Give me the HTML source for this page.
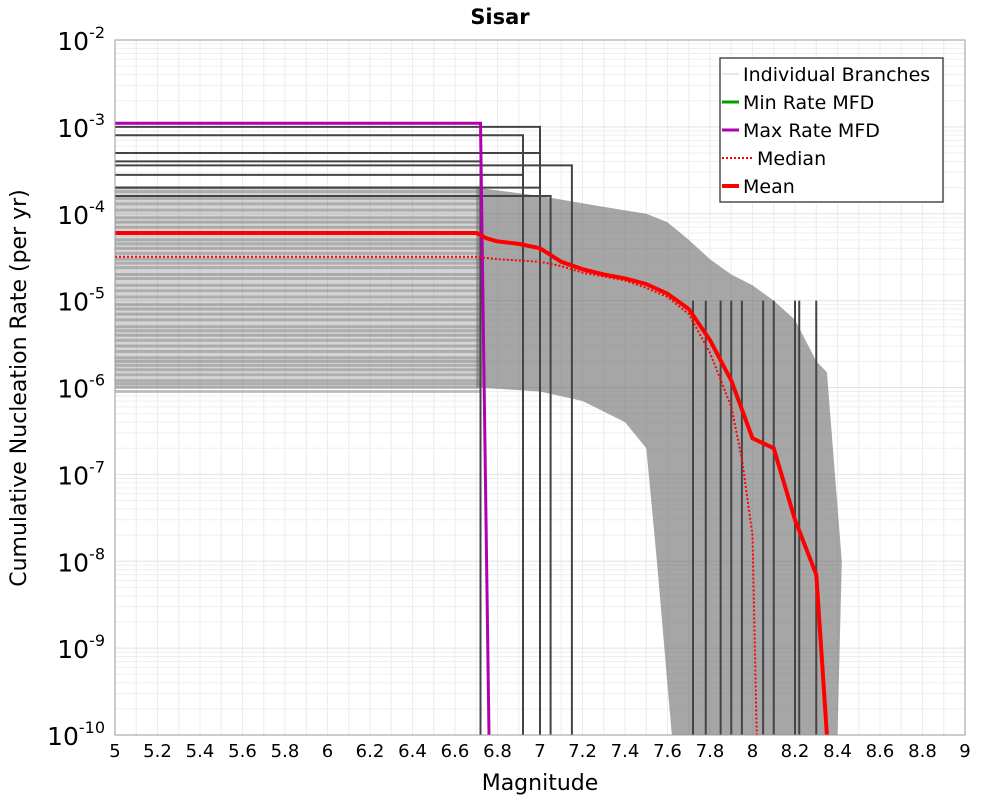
<!DOCTYPE html>
<html><head><meta charset="utf-8">
<style>
body{margin:0;background:#fff;}
svg{display:block;font-family:"DejaVu Sans","Liberation Sans",sans-serif;}
</style></head>
<body>
<svg id="chart" width="1000" height="800"></svg>
<script>
const NS="http://www.w3.org/2000/svg";
const xTicks=[5,5.2,5.4,5.6,5.8,6,6.2,6.4,6.6,6.8,7,7.2,7.4,7.6,7.8,8,8.2,8.4,8.6,8.8,9];
const xTickLabels=["5","5.2","5.4","5.6","5.8","6","6.2","6.4","6.6","6.8","7","7.2","7.4","7.6","7.8","8","8.2","8.4","8.6","8.8","9"];
const yExps=[-2,-3,-4,-5,-6,-7,-8,-9,-10];
const meanMag=[5,6.7,6.75,6.8,6.9,7.0,7.1,7.2,7.3,7.4,7.5,7.6,7.7,7.8,7.9,8.0,8.1,8.2,8.3,8.35];
const meanRate=[6e-5,6e-5,5.2e-5,4.8e-5,4.5e-5,4e-5,2.8e-5,2.3e-5,2e-5,1.8e-5,1.55e-5,1.2e-5,8e-6,3.5e-6,1.2e-6,2.6e-7,2e-7,3e-8,7e-9,1e-10];
const medianMag=[5,6.7,6.8,6.9,7.0,7.1,7.2,7.3,7.4,7.5,7.6,7.7,7.8,7.9,7.95,8.0,8.02];
const medianRate=[3.2e-5,3.2e-5,3e-5,2.9e-5,2.8e-5,2.5e-5,2.1e-5,1.9e-5,1.7e-5,1.4e-5,1.1e-5,7e-6,2.5e-6,6e-7,1.5e-7,2e-8,1e-10];
const maxMag=[5,6.72,6.76];
const maxRate=[1.1e-3,1.1e-3,1e-10];
const bandUpMag=[6.7,7.0,7.3,7.5,7.6,7.7,7.8,7.9,8.0,8.1,8.2,8.3,8.35,8.42];
const bandUpRate=[2e-4,1.6e-4,1.2e-4,1e-4,8e-5,5e-5,3e-5,2e-5,1.5e-5,1e-5,6e-6,2e-6,1.5e-6,1e-8];
const bandLoMag=[6.7,7.0,7.2,7.4,7.5,7.55,7.62,8.4];
const bandLoRate=[1e-6,9e-7,7e-7,4e-7,2e-7,1e-8,1e-10,1e-10];
const branchRates=[2e-4,1.8e-4,1.5e-4,1.3e-4,1.1e-4,9e-5,8e-5,7e-5,6e-5,5e-5,4.5e-5,4e-5,3.5e-5,3e-5,2.7e-5,2.4e-5,2e-5,1.8e-5,1.5e-5,1.3e-5,1.1e-5,9e-6,8e-6,7e-6,6e-6,5e-6,4.5e-6,4e-6,3.5e-6,3e-6,2.6e-6,2.2e-6,2e-6,1.8e-6,1.6e-6,1.4e-6,1.2e-6,1.1e-6,1e-6,9e-7];
const stepRates=[1e-3,8e-4,5e-4,4e-4,3.6e-4,2.8e-4,2e-4,1.6e-4];
const stepMmax=[7.0,6.92,7.0,6.72,7.15,6.92,7.0,7.05];
const X0=115,X1=965,Y0=40,Y1=735;
const xs=m=>X0+(m-5)/4*(X1-X0);
const ys=r=>Y0+(-2-Math.log10(r))/8*(Y1-Y0);
const svg=document.getElementById('chart');
function el(t,a,p){const e=document.createElementNS(NS,t);for(const k in a)e.setAttribute(k,a[k]);(p||svg).appendChild(e);return e;}
function pts(M,R){return M.map((m,i)=>xs(m).toFixed(1)+","+ys(R[i]).toFixed(1)).join(" ");}
el('rect',{x:X0,y:Y0,width:X1-X0,height:Y1-Y0,fill:'#fff'});
const grid=el('g',{});


for(let i=0;i<=40;i++){const x=xs(5+i*0.1);el('line',{x1:x,x2:x,y1:Y0,y2:Y1,stroke:'#ececec','stroke-width':1},grid);}
for(let d=-10;d<-2;d++){for(let k=1;k<10;k++){const y=ys(k*Math.pow(10,d));el('line',{x1:X0,x2:X1,y1:y,y2:y,stroke:k==1?'#e2e2e2':'#efefef','stroke-width':1},grid);}}
const band=el('polygon',{points:pts(bandUpMag,bandUpRate)+" "+pts(bandLoMag.slice().reverse(),bandLoRate.slice().reverse()),fill:'#6a6a6a','fill-opacity':0.6});


const br=el('g',{});


branchRates.forEach(r=>{el('line',{x1:X0,x2:xs(6.72),y1:ys(r),y2:ys(r),stroke:'#555','stroke-opacity':0.35,'stroke-width':3},br);});
el('rect',{x:X0,y:ys(2e-4),width:xs(6.72)-X0,height:ys(1e-6)-ys(2e-4),fill:'#888','fill-opacity':0.35},br);
stepRates.forEach((r,i)=>{el('polyline',{points:pts([5,stepMmax[i],stepMmax[i]],[r,r,1e-10]),fill:'none',stroke:'#444','stroke-width':2},br);});
[7.72,7.78,7.85,7.9,7.95,8.05,8.1,8.2,8.22,8.3].forEach(m=>{el('line',{x1:xs(m),x2:xs(m),y1:ys(1e-5),y2:Y1,stroke:'#444','stroke-width':2},br);});
const mx=el('polyline',{points:pts(maxMag,maxRate),fill:'none',stroke:'#b000b0','stroke-width':3});


const md=el('polyline',{points:pts(medianMag,medianRate),fill:'none',stroke:'#f00','stroke-width':2,'stroke-dasharray':'2,2'});


const mn=el('polyline',{points:pts(meanMag,meanRate),fill:'none',stroke:'#f00','stroke-width':4});


el('rect',{x:X0,y:Y0,width:X1-X0,height:Y1-Y0,fill:'none',stroke:'#999','stroke-width':1});
xTicks.forEach((t,i)=>{const tx=el('text',{x:xs(t),y:757,'font-size':18,'text-anchor':'middle'});tx.textContent=xTickLabels[i];

});
yExps.forEach(e=>{const y=ys(Math.pow(10,e));const t=el('text',{x:105,y:y+10,'font-size':25,'text-anchor':'end'});
t.innerHTML='10<tspan dy="-12" font-size="16">'+e+'</tspan>';

});
const tt=el('text',{x:500,y:24,'font-size':21,'font-weight':'bold','text-anchor':'middle'});tt.textContent='Sisar';


const xt=el('text',{x:540,y:790,'font-size':22,'text-anchor':'middle'});xt.textContent='Magnitude';


const yt=el('text',{x:0,y:0,'font-size':22,'text-anchor':'middle',transform:'translate(26,388) rotate(-90)'});yt.textContent='Cumulative Nucleation Rate (per yr)';


const lg=el('g',{});


el('rect',{x:720,y:58,width:223,height:144,fill:'#fff',stroke:'#333','stroke-width':1.3},lg);
const items=[['Individual Branches','#ccc',1,null,0],['Min Rate MFD','#00a000',3,null,0],['Max Rate MFD','#b000b0',3,null,0],['Median','#f00',2,'2,2',14],['Mean','#f00',4,null,0]];
items.forEach((it,i)=>{const y=74+i*28;const g=el('g',{},lg);


el('line',{x1:722,x2:739+it[4],y1:y,y2:y,stroke:it[1],'stroke-width':it[2],'stroke-dasharray':it[3]||'none'},g);
const t=el('text',{x:743+it[4],y:y+7,'font-size':19},g);t.textContent=it[0];});
</script>
</body></html>
